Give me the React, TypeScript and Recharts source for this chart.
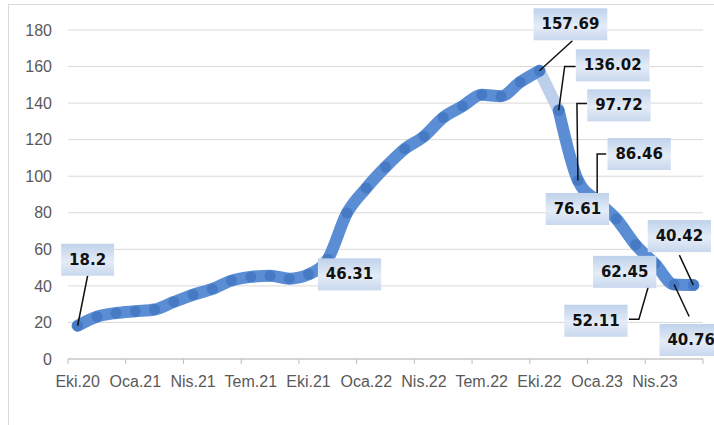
import { LineChart, Line, XAxis, YAxis, CartesianGrid } from 'recharts';

// Monthly series, Eki.20 .. Haz.23
const MONTHS = [
  'Eki.20', 'Kas.20', 'Ara.20', 'Oca.21', 'Şub.21', 'Mar.21', 'Nis.21', 'May.21',
  'Haz.21', 'Tem.21', 'Ağu.21', 'Eyl.21', 'Eki.21', 'Kas.21', 'Ara.21', 'Oca.22',
  'Şub.22', 'Mar.22', 'Nis.22', 'May.22', 'Haz.22', 'Tem.22', 'Ağu.22', 'Eyl.22',
  'Eki.22', 'Kas.22', 'Ara.22', 'Oca.23', 'Şub.23', 'Mar.23', 'Nis.23', 'May.23', 'Haz.23',
];

const VALUES = [
  18.2, 23.11, 25.15, 26.16, 27.09, 31.2, 35.17, 38.33, 42.89, 44.92, 45.52, 43.96,
  46.31, 54.62, 79.89, 93.53, 105.01, 114.97, 121.82, 132.16, 138.31, 144.61, 143.75,
  151.5, 157.69, 136.02, 97.72, 86.46, 76.61, 62.45, 52.11, 40.76, 40.42,
];

// indexes of the months that carry a label on the x axis
const TICK_INDEX = [0, 3, 6, 9, 12, 15, 18, 21, 24, 27, 30];
const Y_TICKS = [0, 20, 40, 60, 80, 100, 120, 140, 160, 180];

// points with a data label
const LABELED = [0, 12, 24, 25, 26, 27, 28, 29, 30, 31, 32];
// the steep drop right after the peak is drawn lighter
const PEAK = 24;

// label box placement relative to its point (style only)
const LABEL_LAYOUT: Record<number, { dx: number; dy: number; leader?: number[][] }> = {
  0: { dx: 10, dy: -66, leader: [[0, 0], [10, -50]] },
  12: { dx: 41, dy: 0 },
  24: { dx: 31, dy: -46.5, leader: [[0, 0], [33, -30]] },
  25: { dx: 54, dy: -45, leader: [[0, 0], [6, -44], [17, -44]] },
  26: { dx: 41, dy: -75, leader: [[0, 0], [-1, -77], [9, -77]] },
  27: { dx: 42, dy: -47, leader: [[0, 0], [0, -47], [9, -47]] },
  28: { dx: -39, dy: -10 },
  29: { dx: -11, dy: 27 },
  30: { dx: -59, dy: 57, leader: [[0, 0], [-16, 55.5], [-26, 55.5]] },
  31: { dx: 17, dy: 55.5, leader: [[0, 0], [15, 32]] },
  32: { dx: -14, dy: -49, leader: [[0, 0], [-14, -30]] },
};

const COLORS = {
  line: '#5a8dd3',
  dot: '#467ac4',
  drop: '#bcd0eb',
  grid: '#d9d9d9',
  axis: '#bfbfbf',
  text: '#595959',
};

const AXIS_FONT = '"Liberation Sans", Arial, sans-serif';
const LABEL_FONT = '"DejaVu Sans", sans-serif';

const data = MONTHS.map((month, i) => ({
  idx: i,
  month,
  all: VALUES[i],
  main: i <= PEAK ? VALUES[i] : null,
  tail: i > PEAK ? VALUES[i] : null,
  drop: i === PEAK || i === PEAK + 1 ? VALUES[i] : null,
}));

const xTicks = [
  ...TICK_INDEX.map((i) => i - 0.5),
  MONTHS.length - 0.5,
  ...TICK_INDEX,
].sort((a, b) => a - b);

function boxWidth(s: string): number {
  let w = 0;
  for (const ch of s) w += ch === '.' ? 5.7 : 10.4;
  return w + 16;
}

function XTick(props: any) {
  const { x, y, payload } = props;
  const v = payload.value as number;
  if (!Number.isInteger(v)) {
    return <line x1={x} x2={x} y1={y} y2={y + 5} stroke={COLORS.axis} />;
  }
  return (
    <text
      x={x}
      y={y + 28}
      textAnchor="middle"
      fill={COLORS.text}
      fontSize={16}
      fontFamily={AXIS_FONT}
    >
      {MONTHS[v]}
    </text>
  );
}

function LeaderDot(props: any) {
  const { cx, cy, index } = props;
  const lay = LABEL_LAYOUT[index];
  if (!LABELED.includes(index) || !lay || !lay.leader || cx == null) {
    return <g key={`ld-${index}`} />;
  }
  const pts = lay.leader.map(([dx, dy]) => `${cx + dx},${cy + dy}`).join(' ');
  return (
    <polyline
      key={`ld-${index}`}
      points={pts}
      fill="none"
      stroke="#111"
      strokeWidth={1.5}
    />
  );
}

function BoxDot(props: any) {
  const { cx, cy, index, value } = props;
  const lay = LABEL_LAYOUT[index];
  if (!LABELED.includes(index) || !lay || cx == null) {
    return <g key={`bx-${index}`} />;
  }
  const txt = String(Array.isArray(value) ? value[1] : value);
  const w = boxWidth(txt);
  const h = 32;
  const bx = cx + lay.dx;
  const by = cy + lay.dy;
  return (
    <g key={`bx-${index}`}>
      <rect x={bx - w / 2} y={by - h / 2} width={w} height={h} fill="url(#labelFill)" />
      <text
        x={bx}
        y={by}
        textAnchor="middle"
        dominantBaseline="central"
        fontFamily={LABEL_FONT}
        fontWeight="bold"
        fontSize={15}
        fill="#111"
      >
        {txt}
      </text>
    </g>
  );
}

export default function App() {
  return (
    <div
      style={{
        position: 'absolute',
        left: 0,
        top: 0,
        width: 714,
        height: 425,
        overflow: 'hidden',
        background: '#fff',
      }}
    >
      <svg width={0} height={0} style={{ position: 'absolute' }}>
        <defs>
          <linearGradient id="labelFill" x1="0" y1="0" x2="0" y2="1">
            <stop offset="0%" stopColor="#bfd2eb" />
            <stop offset="55%" stopColor="#e4ecf7" />
            <stop offset="100%" stopColor="#c9d8ee" />
          </linearGradient>
        </defs>
      </svg>
      <div
        style={{
          position: 'absolute',
          left: 8,
          top: 4,
          width: 730,
          height: 440,
          border: `1px solid ${COLORS.grid}`,
        }}
      />
      <div style={{ position: 'absolute', left: 0, top: 0 }}>
        <LineChart
          width={714}
          height={425}
          data={data}
          margin={{ top: 30, right: 11, bottom: 36, left: 8 }}
        >
          <CartesianGrid vertical={false} stroke={COLORS.grid} />
          <XAxis
            dataKey="idx"
            type="number"
            domain={[-0.5, MONTHS.length - 0.5]}
            ticks={xTicks}
            interval={0}
            tick={<XTick />}
            tickLine={false}
            tickSize={0}
            tickMargin={0}
            axisLine={{ stroke: COLORS.axis }}
            height={30}
          />
          <YAxis
            domain={[0, 180]}
            ticks={Y_TICKS}
            interval={0}
            width={60}
            tickLine={false}
            axisLine={false}
            tickSize={0}
            tickMargin={16}
            tick={{ fill: COLORS.text, fontSize: 16, fontFamily: AXIS_FONT }}
          />
          <Line
            dataKey="drop"
            type="monotone"
            stroke={COLORS.drop}
            strokeWidth={12}
            strokeLinecap="round"
            dot={false}
            activeDot={false}
            isAnimationActive={false}
          />
          <Line
            dataKey="main"
            type="monotone"
            stroke={COLORS.line}
            strokeWidth={12}
            strokeLinecap="round"
            strokeLinejoin="round"
            dot={{ r: 5.5, fill: COLORS.dot, stroke: 'none' }}
            activeDot={false}
            isAnimationActive={false}
          />
          <Line
            dataKey="tail"
            type="monotone"
            stroke={COLORS.line}
            strokeWidth={12}
            strokeLinecap="round"
            strokeLinejoin="round"
            dot={{ r: 5.5, fill: COLORS.dot, stroke: 'none' }}
            activeDot={false}
            isAnimationActive={false}
          />
          <Line
            dataKey="all"
            stroke="none"
            dot={LeaderDot}
            activeDot={false}
            isAnimationActive={false}
          />
          <Line
            dataKey="all"
            stroke="none"
            dot={BoxDot}
            activeDot={false}
            isAnimationActive={false}
          />
        </LineChart>
      </div>
    </div>
  );
}
